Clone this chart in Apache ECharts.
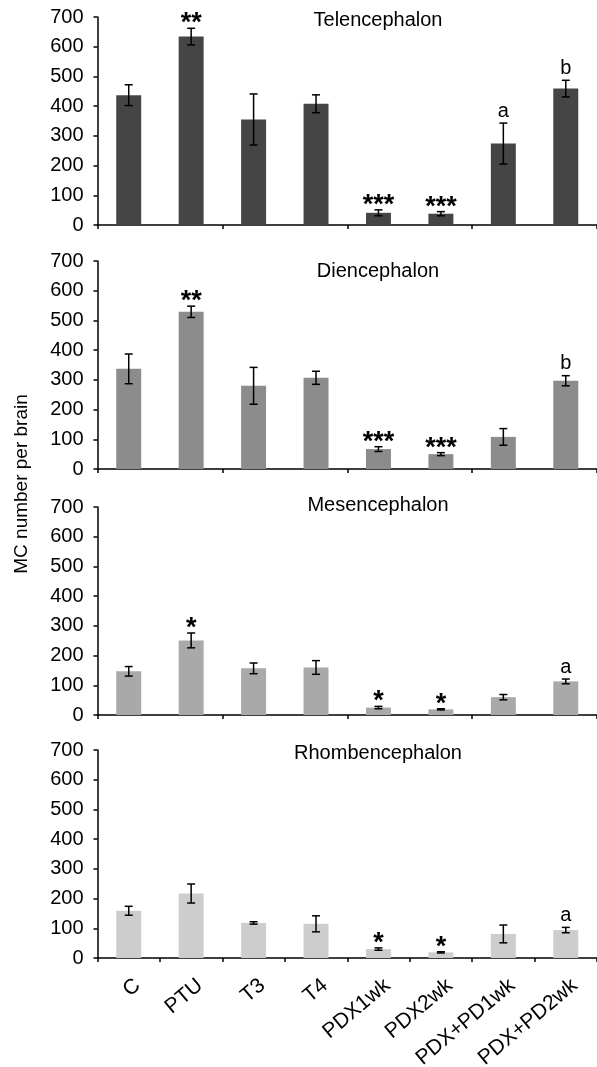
<!DOCTYPE html>
<html>
<head>
<meta charset="utf-8">
<script src="https://cdn.jsdelivr.net/npm/echarts@6/dist/echarts.min.js"></script>
<style>
html,body{margin:0;padding:0;background:#fff;}
#chart{width:597px;height:1067px;}
</style>
</head>
<body>
<div id="chart"></div>
<script>
const categories = ['C','PTU','T3','T4','PDX1wk','PDX2wk','PDX+PD1wk','PDX+PD2wk'];
const yTicks = [0,100,200,300,400,500,600,700];

const telMean = [437, 634, 355, 408, 41, 38, 274, 459];
const telErr  = [35, 28, 86, 30, 10, 7, 69, 28];
const telSig  = ['', '**', '', '', '***', '***', 'a', 'b'];

const dieMean = [337, 529, 280, 307, 67, 50, 108, 297];
const dieErr  = [50, 19, 62, 22, 8, 5, 28, 17];
const dieSig  = ['', '**', '', '', '***', '***', '', 'b'];

const mesMean = [147, 251, 157, 160, 25, 19, 60, 113];
const mesErr  = [16, 25, 18, 23, 4, 2, 9, 8];
const mesSig  = ['', '*', '', '', '*', '*', '', 'a'];

const rhoMean = [159, 217, 118, 115, 30, 19, 81, 94];
const rhoErr  = [15, 32, 4, 27, 4, 2, 30, 9];
const rhoSig  = ['', '', '', '', '*', '*', '', 'a'];

const panelTitles = ['Telencephalon','Diencephalon','Mesencephalon','Rhombencephalon'];
const yTitle = 'MC number per brain';

const FONT = '"Liberation Sans", Arial, sans-serif';
const panels = [
  {mean: telMean, err: telErr, sig: telSig, color: '#454545', top: 17, titleY: 20},
  {mean: dieMean, err: dieErr, sig: dieSig, color: '#8c8c8c', top: 261, titleY: 271},
  {mean: mesMean, err: mesErr, sig: mesSig, color: '#a9a9a9', top: 507, titleY: 505},
  {mean: rhoMean, err: rhoErr, sig: rhoSig, color: '#cdcdcd', top: 750, titleY: 753}
];
const PH = 208;

const grids = [], xAxes = [], yAxes = [], series = [], graphics = [];
panels.forEach((p, k) => {
  grids.push({left: 97.5, right: 0, top: p.top, height: PH, containLabel: false, outerBoundsMode: 'none'});
  xAxes.push({
    type: 'category', gridIndex: k, data: categories,
    axisLine: {show: true, lineStyle: {color: '#000', width: 1.5}},
    axisTick: {show: true, alignWithLabel: false, length: 4, lineStyle: {color: '#000', width: 1.5}},
    axisLabel: k === 3 ? {show: true, rotate: 40, interval: 0, fontSize: 21, color: '#000', fontFamily: FONT,
      margin: 14, align: 'right', verticalAlign: 'top', lineHeight: 28, hideOverlap: false} : {show: false},
    splitLine: {show: false}
  });
  yAxes.push({
    type: 'value', gridIndex: k, min: yTicks[0], max: yTicks[yTicks.length-1], interval: 100,
    axisLine: {show: true, lineStyle: {color: '#000', width: 1.5}},
    axisTick: {show: true, length: 4, lineStyle: {color: '#000', width: 1.5}},
    axisLabel: {fontSize: 20, color: '#000', fontFamily: FONT, margin: 14},
    splitLine: {show: false}
  });
  series.push({
    type: 'bar', xAxisIndex: k, yAxisIndex: k, data: p.mean, barWidth: '40%', z: 2,
    itemStyle: {color: p.color}, silent: true, animation: false
  });
  series.push({
    type: 'custom', xAxisIndex: k, yAxisIndex: k, animation: false, silent: true, z: 10,
    data: p.mean.map((m, i) => [i, m, p.err[i]]),
    renderItem: function(params, api) {
      const x = api.value(0), m = api.value(1), e = api.value(2);
      const t = api.coord([x, m + e]);
      const b = api.coord([x, m - e]);
      const hw = 4;
      const st = {stroke: '#000', lineWidth: 1.5};
      return {type: 'group', children: [
        {type: 'line', shape: {x1: t[0], y1: t[1], x2: b[0], y2: b[1]}, style: st},
        {type: 'line', shape: {x1: t[0]-hw, y1: t[1], x2: t[0]+hw, y2: t[1]}, style: st},
        {type: 'line', shape: {x1: b[0]-hw, y1: b[1], x2: b[0]+hw, y2: b[1]}, style: st}
      ]};
    }
  });
  series.push({
    type: 'custom', xAxisIndex: k, yAxisIndex: k, animation: false, silent: true, z: 11,
    data: p.mean.map((m, i) => [i, m + p.err[i]]),
    renderItem: function(params, api) {
      const s = p.sig[params.dataIndex];
      if (!s) return null;
      const pt = api.coord([api.value(0), api.value(1)]);
      const star = s.indexOf('*') >= 0;
      return {type: 'text', x: pt[0], y: pt[1] + (star ? 9 : -12),
        style: {text: s, fill: '#000', font: (star ? 'bold 27px ' : '20px ') + FONT,
          textAlign: 'center', textVerticalAlign: star ? 'bottom' : 'middle'}};
    }
  });
  graphics.push({type: 'text', x: 378, y: p.titleY,
    style: {text: panelTitles[k], font: '20px ' + FONT, fill: '#000', textAlign: 'center', textVerticalAlign: 'middle'}});
});
graphics.push({type: 'text', x: 22, y: 484, rotation: Math.PI/2,
  style: {text: yTitle, font: '19px ' + FONT, fill: '#000', textAlign: 'center', textVerticalAlign: 'middle'}});

const chart = echarts.init(document.getElementById('chart'), null, {renderer: 'canvas'});
chart.setOption({
  animation: false,
  backgroundColor: '#fff',
  grid: grids, xAxis: xAxes, yAxis: yAxes, series: series, graphic: graphics
});
</script>
</body>
</html>
